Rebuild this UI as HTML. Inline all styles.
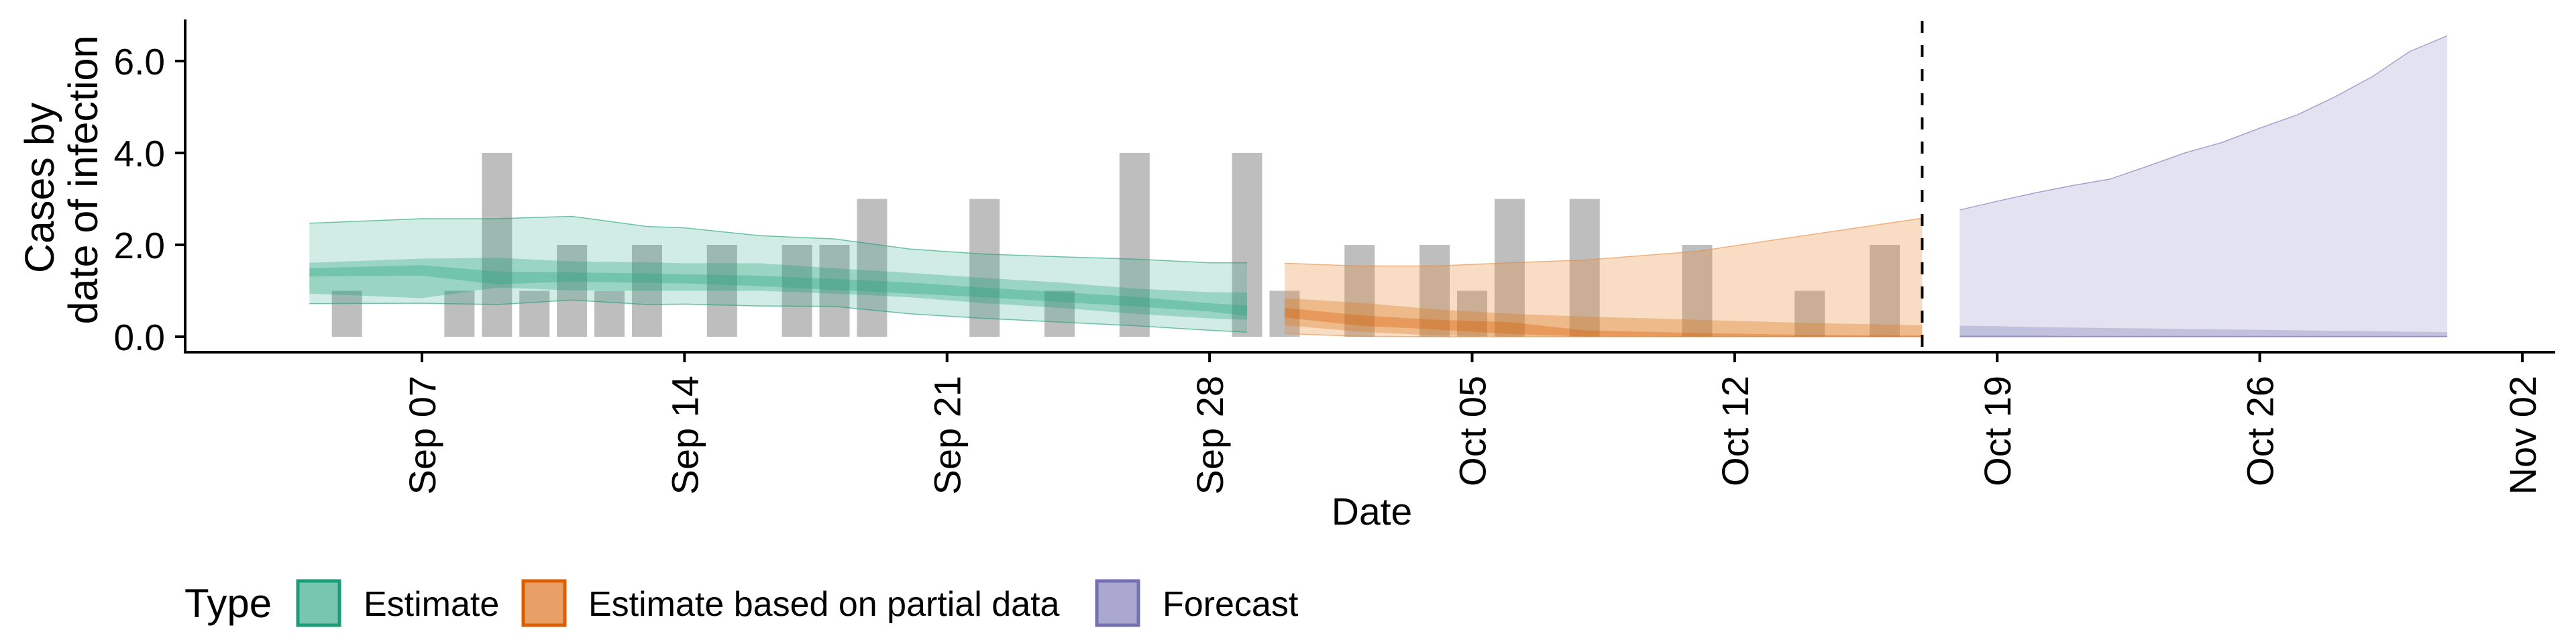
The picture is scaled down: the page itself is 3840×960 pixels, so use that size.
<!DOCTYPE html>
<html><head><meta charset="utf-8"><style>
html,body{margin:0;padding:0;background:#fff;}
svg{display:block;font-family:"Liberation Sans",Arial,sans-serif;}
</style></head><body>
<svg id="chart" width="3840" height="960" viewBox="0 0 3840 960">
<g id="bars"></g>
<g id="ribbons"></g>
<g id="axes"></g>
<text x="2045" y="782" font-size="57" text-anchor="middle">Date</text>
<g>
<text transform="translate(80,280) rotate(-90)" font-size="61" text-anchor="middle">Cases by</text>
<text transform="translate(145,268) rotate(-90)" font-size="61" text-anchor="middle">date of infection</text>
</g>
<g>
<text x="275" y="920" font-size="60">Type</text>
<g>
<rect x="444" y="866" width="62" height="66" fill="#78c6ad" stroke="#1b9e77" stroke-width="5"/>
<text x="542" y="918" font-size="52">Estimate</text></g>
<g>
<rect x="780" y="866" width="62" height="66" fill="#e9a066" stroke="#d95f02" stroke-width="5"/>
<text x="877" y="918" font-size="52">Estimate based on partial data</text></g>
<g>
<rect x="1635" y="866" width="62" height="66" fill="#aaa8cf" stroke="#7570b3" stroke-width="5"/>
<text x="1733" y="918" font-size="52">Forecast</text></g>
</g>
</svg>
<script>
// day offsets relative to Sep 07
const barDays = [-2,1,2,3,4,5,6,8,10,11,12,15,17,19,22,23,25,27,28,29,31,34,37,39];
const barValues = [1,1,4,1,2,1,2,2,2,2,3,3,1,4,4,1,2,2,1,3,3,2,1,2];

const estDays = [-3,0,2,4,6,7,9,11,13,15,17,19,21,22];
const estOuterHi = [2.47,2.57,2.57,2.62,2.40,2.37,2.20,2.13,1.91,1.80,1.74,1.69,1.61,1.61];
const estOuterLo = [0.72,0.73,0.70,0.80,0.70,0.71,0.67,0.66,0.50,0.40,0.32,0.24,0.14,0.10];
const estMidHi = [1.61,1.70,1.72,1.64,1.62,1.60,1.60,1.49,1.39,1.28,1.18,1.05,0.97,0.96];
const estMidLo = [0.94,0.84,1.07,1.01,1.00,1.00,1.00,0.94,0.86,0.73,0.63,0.50,0.40,0.37];
const estInHi = [1.49,1.56,1.42,1.40,1.38,1.36,1.33,1.26,1.18,1.07,0.97,0.87,0.73,0.68];
const estInLo = [1.31,1.33,1.14,1.20,1.17,1.16,1.10,1.02,0.94,0.86,0.76,0.66,0.55,0.45];

const partDays = [23,25,27,29,31,34,37,40];
const partOuterHi = [1.60,1.54,1.54,1.61,1.67,1.86,2.22,2.58];
const partOuterLo = [0.07,0.01,0,0,0,0,0,0];
const partMidHi = [0.84,0.74,0.60,0.50,0.44,0.37,0.30,0.25];
const partMidLo = [0.25,0.11,0.03,0.01,0,0,0,0];
const partInHi = [0.63,0.47,0.37,0.32,0.14,0.08,0.04,0.03];
const partInLo = [0.42,0.24,0.16,0.06,0.01,0,0,0];

const fcDays = [41,42,43,44,45,46,47,48,49,50,51,52,53,54];
const fcOuterHi = [2.76,2.95,3.13,3.29,3.43,3.71,4.00,4.23,4.54,4.83,5.22,5.66,6.21,6.55];
const fcOuterLo = [0,0,0,0,0,0,0,0,0,0,0,0,0,0];
const fcMidHi = [0.24,0.23,0.21,0.20,0.19,0.18,0.17,0.16,0.15,0.14,0.13,0.12,0.11,0.10];
const fcMidLo = [0,0,0,0,0,0,0,0,0,0,0,0,0,0];
const fcInHi = [0.03,0.03,0.03,0.02,0.02,0.02,0.02,0.02,0.02,0.02,0.02,0.02,0.02,0.02];
const fcInLo = [0,0,0,0,0,0,0,0,0,0,0,0,0,0];

const yTicks = [0,2,4,6];
const yTickLabels = ["0.0","2.0","4.0","6.0"];
const xTickDays = [0,7,14,21,28,35,42,49,56];
const xTickLabels = ["Sep 07","Sep 14","Sep 21","Sep 28","Oct 05","Oct 12","Oct 19","Oct 26","Nov 02"];
const cutoffDay = 40;

const NS = "http://www.w3.org/2000/svg";
const X0 = 629, PXD = 55.91, Y0 = 502, PXU = 68.5;
const x = d => X0 + d * PXD;
const y = v => Y0 - v * PXU;
function mk(tag, attrs, parent){ const e=document.createElementNS(NS,tag); for(const k in attrs) e.setAttribute(k,attrs[k]); parent.appendChild(e); return e; }

const gb = document.getElementById('bars');
barDays.forEach((d,i)=>{
  const r = mk('rect',{x:x(d)-22.5,y:y(barValues[i]),width:45,height:barValues[i]*PXU,fill:'#bebebe'},gb);
  
  
});

const gr = document.getElementById('ribbons');
function band(days, hi, lo, color, op, name, outline){
  let pts = days.map((d,i)=>x(d)+','+y(hi[i]));
  pts = pts.concat(days.map((d,i)=>x(d)+','+y(lo[i])).reverse());
  const p = mk('polygon',{points:pts.join(' '),fill:color,'fill-opacity':op},gr);
  
  
  if(outline){
    [hi,lo].forEach(arr=>{
      const l = mk('polyline',{points:days.map((d,i)=>x(d)+','+y(arr[i])).join(' '),fill:'none',stroke:color,'stroke-opacity':0.6,'stroke-width':1.5},gr);
      
      
    });
  }
}
band(estDays,estOuterHi,estOuterLo,'#1b9e77',0.2,'estimate-90-band',true);
band(estDays,estMidHi,estMidLo,'#1b9e77',0.3,'estimate-50-band',false);
band(estDays,estInHi,estInLo,'#1b9e77',0.3,'estimate-20-band',false);
band(partDays,partOuterHi,partOuterLo,'#e88a3c',0.3,'partial-90-band',true);
band(partDays,partMidHi,partMidLo,'#e07a20',0.35,'partial-50-band',false);
band(partDays,partInHi,partInLo,'#d95f02',0.35,'partial-20-band',false);
band(fcDays,fcOuterHi,fcOuterLo,'#7570b3',0.2,'forecast-90-band',true);
band(fcDays,fcMidHi,fcMidLo,'#7570b3',0.3,'forecast-50-band',false);
band(fcDays,fcInHi,fcInLo,'#7570b3',0.3,'forecast-20-band',false);

const ga = document.getElementById('axes');
const cut = mk('line',{x1:x(cutoffDay),x2:x(cutoffDay),y1:31,y2:525,stroke:'#000','stroke-width':4,'stroke-dasharray':'18 18'},ga);


const ya = mk('line',{x1:276,x2:276,y1:29,y2:527,stroke:'#000','stroke-width':4},ga);


const xa = mk('line',{x1:274,x2:3809,y1:525,y2:525,stroke:'#000','stroke-width':4},ga);


yTicks.forEach((v,i)=>{
  const t = mk('line',{x1:261,x2:276,y1:y(v),y2:y(v),stroke:'#000','stroke-width':4},ga);
  
  
  const tx = mk('text',{x:246,y:y(v)+20,'font-size':55,'text-anchor':'end'},ga);
  tx.textContent = yTickLabels[i];
  
  
});
xTickDays.forEach((d,i)=>{
  const t = mk('line',{x1:x(d),x2:x(d),y1:525,y2:540,stroke:'#000','stroke-width':4},ga);
  
  
  const tx = mk('text',{transform:'translate('+(x(d)+20)+',560) rotate(-90)','font-size':56,'text-anchor':'end'},ga);
  tx.textContent = xTickLabels[i];
  
  
});
</script>
</body></html>
